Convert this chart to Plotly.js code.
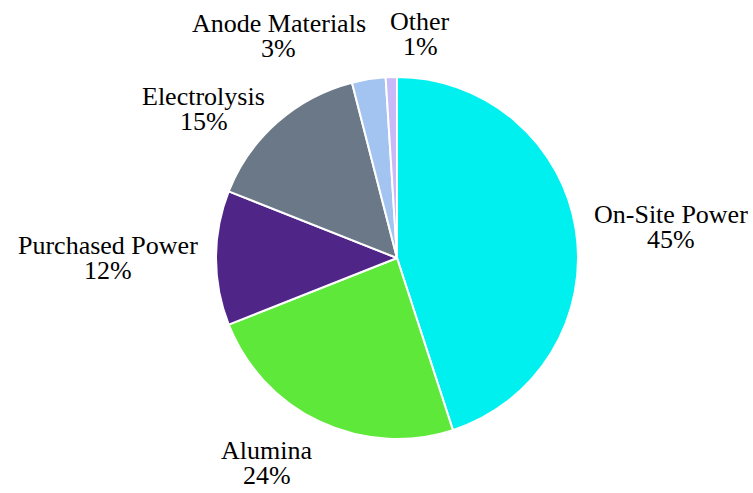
<!DOCTYPE html>
<html><head><meta charset="utf-8">
<script src="https://cdn.plot.ly/plotly-3.0.1.min.js"></script>
<style>html,body{margin:0;padding:0;background:#fff}</style>
</head><body>
<div id="chart" style="width:753px;height:493px"></div>
<script>
const labels = ["On-Site Power", "Alumina", "Purchased Power", "Electrolysis", "Anode Materials", "Other"];
const values = [45, 24, 12, 15, 3, 1];
const colors = ["#00F0F0", "#5EE83A", "#502588", "#6B7888", "#A3C4F0", "#C8B9F8"];

const W = 753, H = 493;
const margin = {l: 100, r: 59, t: 77, b: 54};
const pw = W - margin.l - margin.r, ph = H - margin.t - margin.b;
const R = Math.min(pw, ph) / 2;
const cx = margin.l + pw / 2, cy = margin.t + ph / 2;
const FONT = "Liberation Serif";
const FSIZE = 26;
const PITCH = 25;

const ctx = document.createElement("canvas").getContext("2d");
ctx.font = FSIZE + "px 'Liberation Serif'";
const tw = s => ctx.measureText(s).width;

const toPaperX = px => (px - margin.l) / pw;
const toPaperY = py => (margin.t + ph - py) / ph;

// Outside labels placed along each slice's mid-angle (computed from the values)
const total = values.reduce((a, b) => a + b, 0);
let cum = 0;
const annotations = [];
values.forEach((v, i) => {
  const mid = (cum + v / 2) / total * 2 * Math.PI;
  cum += v;
  const sx = Math.sin(mid), sy = -Math.cos(mid); // screen coords (y down)
  const dist = 1.1 * R;
  const px = cx + dist * sx, py = cy + dist * sy;
  const name = labels[i];
  const pct = Math.round(v / total * 100) + "%";
  const w = Math.max(tw(name), tw(pct));
  const h = 2 * PITCH;
  const left = sx > -0.05 ? px : px - w;
  const top = sy < -0.9 ? py - h : (sy > 0.85 ? py : py - h / 2);
  const xc = left + w / 2;
  [[name, top + PITCH / 2], [pct, top + 1.5 * PITCH]].forEach(([t, yc]) => {
    annotations.push({
      xref: "paper", yref: "paper", x: toPaperX(xc), y: toPaperY(yc),
      xanchor: "center", yanchor: "middle", showarrow: false,
      text: t, font: {family: FONT, size: FSIZE, color: "#000"}
    });
  });
});

Plotly.newPlot("chart", [{
  type: "pie",
  labels: labels,
  values: values,
  sort: false,
  direction: "clockwise",
  rotation: 0,
  marker: {colors: colors, line: {color: "#ffffff", width: 2}},
  textinfo: "none",
  hoverinfo: "none"
}], {
  width: W, height: H,
  margin: margin,
  showlegend: false,
  paper_bgcolor: "#fff",
  font: {family: FONT, size: FSIZE, color: "#000"},
  annotations: annotations
}, {displayModeBar: false, staticPlot: true});
</script>
</body></html>
